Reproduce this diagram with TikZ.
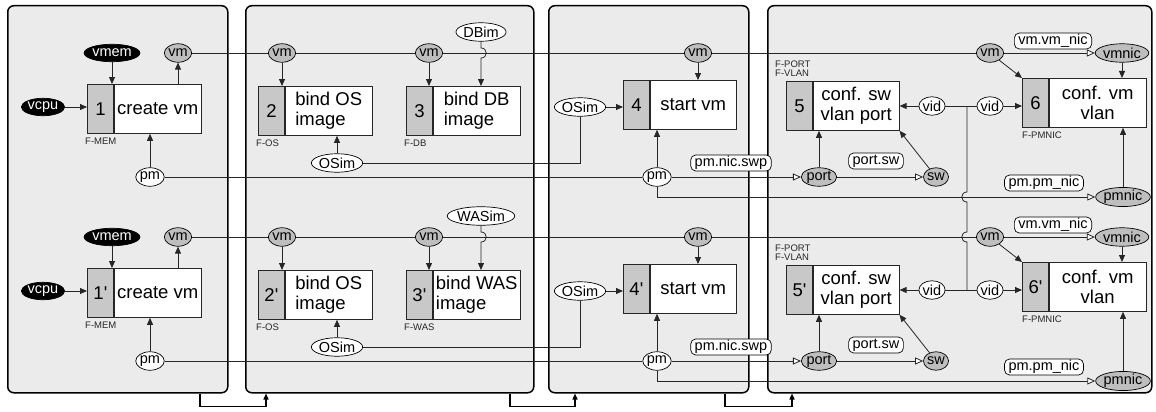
\documentclass[tikz,border=0pt]{standalone}
\usepackage{fontspec}
\setmainfont{Liberation Sans}
\usetikzlibrary{arrows.meta,shapes.geometric,calc}

\definecolor{panelbg}{HTML}{EBEBEB}
\definecolor{numgray}{HTML}{C8C8C8}
\definecolor{ovgray}{HTML}{BEBEBE}
\definecolor{lin}{HTML}{262626}

\tikzset{
  panel/.style={draw=black, line width=1.5pt, fill=panelbg, rounded corners=6pt, anchor=north west, inner sep=0},
  numpart/.style={draw=lin, line width=0.8pt, fill=numgray, minimum width=26, minimum height=49, inner sep=0, font=\fontsize{18.5}{20.5}\selectfont},
  bodypart/.style={draw=lin, line width=0.8pt, fill=white, minimum height=49, inner sep=0, font=\fontsize{18.5}{20.5}\selectfont},
  ov/.style={ellipse, draw=black, line width=0.7pt, inner sep=0pt, minimum height=18.5, font=\fontsize{14.5}{15}\selectfont},
  ovw/.style={ov, fill=white},
  ovg/.style={ov, fill=ovgray},
  ovb/.style={ov, fill=black, text=white, minimum height=17.5},
  lbl/.style={draw=black, line width=0.7pt, fill=white, rounded corners=5pt, inner xsep=4pt, inner ysep=0pt, minimum height=16, font=\fontsize{14.5}{15}\selectfont},
  flbl/.style={font=\fontsize{9.5}{9}\selectfont, inner sep=0pt, text=black!85},
  conn/.style={draw=lin, line width=0.8pt},
  arr/.style={conn, -{Triangle[length=7pt,width=6pt]}},
  oarr/.style={conn, -{Triangle[open,length=8pt,width=7pt,fill=white]}},
  parr/.style={draw=black, line width=1.4pt, -{Triangle[length=6pt,width=5pt]}},
}

\newcommand{\wftask}[7]{%
  \node[numpart, anchor=north west] (#1n) at (#2,#3) {#5};
  \node[bodypart, anchor=north west, minimum width=#4, align=#7] (#1) at (#1n.north east) {#6};}

% #1 suffix, #2 vertical offset, #3 prime, #4 image name
\newcommand{\wfrow}[4]{%
\begin{scope}[yshift=-#2pt]
  % panel 1
  \node[ovb] (vcpu#1) at (43,107) {vcpu};
  \node[ovb] (vmem#1) at (112,53) {vmem};
  \node[ovg] (vmA#1) at (178,53) {vm};
  \node[ovw] (pmA#1) at (150,177) {pm};
  \wftask{tA#1}{87}{84}{87}{1#3}{create vm}{center}
  \node[flbl, anchor=north west] (fA#1) at ([xshift=-2pt,yshift=-4pt]tA#1n.south west) {F-MEM};
  \draw[arr] (vcpu#1) -- (vcpu#1 -| tA#1n.west);
  \draw[arr] (vmem#1) -- (vmem#1 |- tA#1n.north);
  \draw[arr] (vmA#1 |- tA#1.north) -- (vmA#1);
  \draw[arr] (pmA#1) -- (pmA#1 |- tA#1.south);
  % panel 2
  \node[ovg] (vmB#1) at (282,53) {vm};
  \wftask{tB#1}{258}{86}{87}{2#3}{bind OS\\image}{left}
  \node[flbl, anchor=north west] (fB#1) at ([xshift=-2pt,yshift=-4pt]tB#1n.south west) {F-OS};
  \node[ovw] (osB#1) at (337,163) {OSim};
  \node[ovg] (vmC#1) at (429,53) {vm};
  \wftask{tC#1}{406}{86}{87}{3#3}{bind #4\\image}{left}
  \node[flbl, anchor=north west] (fC#1) at ([xshift=-2pt,yshift=-4pt]tC#1n.south west) {F-#4};
  \node[ovw] (imC#1) at (481,32) {#4im};
  \draw[arr] (vmB#1) -- (vmB#1 |- tB#1n.north);
  \draw[arr] (osB#1) -- (osB#1 |- tB#1.south);
  \draw[arr] (vmC#1) -- (vmC#1 |- tC#1n.north);
  \draw[arr] (imC#1) -- ($(imC#1 |- vmC#1)+(0,-5)$) .. controls +(7,0) and +(7,0) .. ($(imC#1 |- vmC#1)+(0,5)$) -- (imC#1 |- tC#1.north);
  % panel 3
  \node[ovg] (vmD#1) at (698,53) {vm};
  \node[ovw] (osD#1) at (580,107) {OSim};
  \wftask{tD#1}{623}{80}{86}{4#3}{start vm}{center}
  \node[ovw] (pmD#1) at (657,177) {pm};
  \node[lbl] (lnsw#1) at (731,163) {pm.nic.swp};
  \draw[conn] (osB#1) -| (osD#1);
  \draw[arr] (osD#1) -- (osD#1 -| tD#1n.west);
  \draw[arr] (vmD#1) -- (vmD#1 |- tD#1.north);
  \draw[arr] (pmD#1) -- (pmD#1 |- tD#1.south);
  \draw[conn] (pmA#1) -- (pmD#1);
  % panel 4
  \node[ovg] (vmE#1) at (990,53) {vm};
  \node[ovg] (vmnic#1) at (1122,53) {vmnic};
  \node[lbl] (lvmnic#1) at (1053,41) {vm.vm\_nic};
  \wftask{tE#1}{786}{81}{86}{5#3}{conf. sw\\vlan port}{center}
  \node[flbl, anchor=south west, align=left] (fE#1) at ([xshift=-11pt,yshift=4pt]tE#1n.north west) {F-PORT\\F-VLAN};
  \wftask{tF#1}{1022}{78}{97}{6#3}{conf. vm\\vlan}{center}
  \node[flbl, anchor=north west] (fF#1) at ([yshift=-4pt]tF#1n.south west) {F-PMNIC};
  \node[ovw] (vidL#1) at (932,106) {vid};
  \node[ovw] (vidR#1) at (990,106) {vid};
  \coordinate (vj#1) at (967,106);
  \node[ovg] (port#1) at (819,177) {port};
  \node[ovg] (sw#1) at (936,177) {sw};
  \node[lbl] (lpsw#1) at (876,161) {port.sw};
  \node[lbl] (lpmnic#1) at (1044,183) {pm.pm\_nic};
  \node[ovg] (pmnic#1) at (1123,197) {pmnic};
  \draw[conn] (vmA#1) -- (vmB#1) -- (vmC#1) -- (vmD#1) -- (vmE#1);
  \draw[oarr] (pmD#1) -- (port#1);
  \draw[arr] (port#1) -- (port#1 |- tE#1.south);
  \draw[oarr] (port#1) -- (sw#1);
  \draw[arr] (sw#1) -- (tE#1.south east);
  \draw[conn] (vidL#1) -- (vidR#1);
  \draw[arr] (vidL#1) -- (vidL#1 -| tE#1.east);
  \draw[arr] (vidR#1) -- (vidR#1 -| tF#1n.west);
  \draw[arr] (vmE#1) -- (tF#1n.north west);
  \draw[oarr] (vmE#1) -- (vmnic#1);
  \draw[arr] (vmnic#1) -- (vmnic#1 |- tF#1.north);
  \draw[arr] (pmnic#1) -- (pmnic#1 |- tF#1.south);
  \draw[oarr] (pmD#1.south) |- (pmnic#1);
\end{scope}}

\begin{document}
\begin{tikzpicture}[x=1pt,y=-1pt]
\useasboundingbox (0,0) rectangle (1156,412);
\node[panel, minimum width=220, minimum height=387] (P1) at (7,5) {};
\node[panel, minimum width=288, minimum height=387] (P2) at (245,5) {};
\node[panel, minimum width=200, minimum height=387] (P3) at (548,5) {};
\node[panel, minimum width=384, minimum height=387] (P4) at (767,5) {};

\wfrow{a}{0}{}{DB}
\wfrow{b}{184}{\textquotesingle}{WAS}

% vid link between the two rows, hopping over crossing lines
\draw[conn] (vja) -- ($(vja |- pmnica)+(0,-5)$) .. controls +(-7,0) and +(-7,0) .. ($(vja |- pmnica)+(0,5)$)
  -- ($(vja |- vmEb)+(0,-5)$) .. controls +(-7,0) and +(-7,0) .. ($(vja |- vmEb)+(0,5)$) -- (vjb);

% flow between panels
\coordinate (o1) at ([xshift=193pt]P1.south west);
\coordinate (i2) at ([xshift=21pt]P2.south west);
\coordinate (o2) at ([xshift=265pt]P2.south west);
\coordinate (i3) at ([xshift=27pt]P3.south west);
\coordinate (o3) at ([xshift=177pt]P3.south west);
\coordinate (i4) at ([xshift=25pt]P4.south west);
\draw[parr] (o1) -- ++(0pt,-13pt) -| (i2);
\draw[parr] (o2) -- ++(0pt,-13pt) -| (i3);
\draw[parr] (o3) -- ++(0pt,-13pt) -| (i4);
\end{tikzpicture}
\end{document}
